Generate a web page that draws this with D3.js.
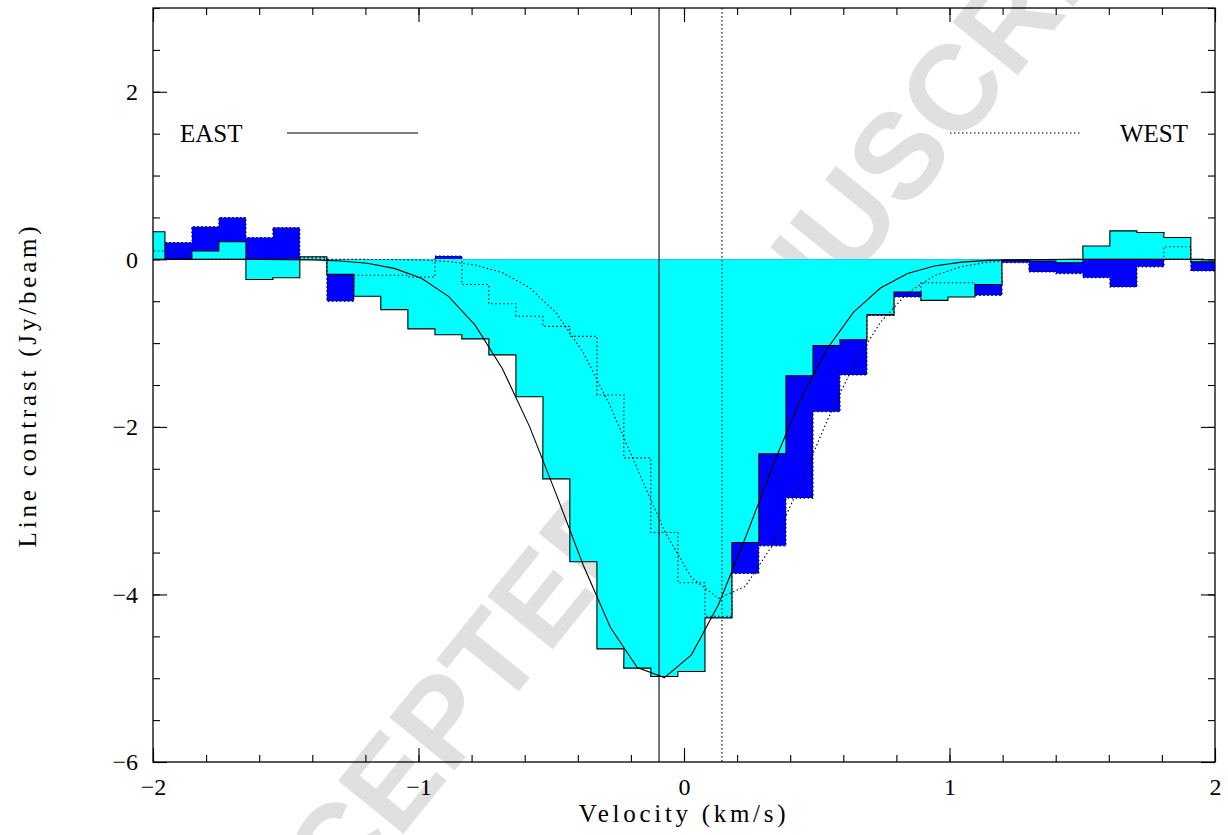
<!DOCTYPE html>
<html>
<head>
<meta charset="utf-8">
<script src="https://d3js.org/d3.v7.min.js"></script>
<style>
body { margin: 0; background: #fff; }
</style>
</head>
<body>
<div id="spectrum_div"></div>
<script>
// channel centres (km/s)
var velocity = [-2.006, -1.904, -1.803, -1.701, -1.599, -1.498, -1.396, -1.294, -1.193, -1.091,
                -0.989, -0.887, -0.786, -0.684, -0.582, -0.481, -0.379, -0.277, -0.176, -0.074,
                 0.028,  0.130,  0.231,  0.333,  0.435,  0.537,  0.638,  0.740,  0.842,  0.943,
                 1.045,  1.147,  1.248,  1.350,  1.452,  1.553,  1.655,  1.757,  1.858,  1.960];

// line contrast per channel (Jy/beam)
var eastContrast = [0.33, 0.00, 0.10, 0.21, -0.24, -0.22, 0.03, -0.18, -0.44, -0.60,
                    -0.83, -0.90, -0.95, -1.14, -1.64, -2.62, -3.61, -4.65, -4.88, -4.98,
                    -4.92, -4.28, -3.38, -2.32, -1.39, -1.03, -0.96, -0.66, -0.39, -0.49,
                    -0.45, -0.30, -0.01, -0.02, -0.04, 0.16, 0.34, 0.32, 0.26, -0.03];
var westContrast = [0.10, 0.20, 0.39, 0.50, 0.26, 0.38, 0.02, -0.50, -0.19, -0.19,
                    -0.21, 0.04, -0.30, -0.53, -0.68, -0.80, -0.92, -1.62, -2.37, -3.26,
                    -3.86, -4.26, -3.75, -3.42, -2.85, -1.82, -1.38, -0.67, -0.45, -0.28,
                    -0.28, -0.43, -0.04, -0.15, -0.17, -0.22, -0.33, -0.09, 0.15, -0.14];

// gaussian fits, read at the channel centres
var eastFit = [0.000, 0.000, 0.000, 0.000, -0.001, -0.003, -0.007, -0.019, -0.047, -0.108,
               -0.227, -0.442, -0.789, -1.305, -1.994, -2.805, -3.655, -4.394, -4.872, -4.992,
               -4.721, -4.120, -3.327, -2.475, -1.698, -1.076, -0.633, -0.342, -0.170, -0.079,
               -0.033, -0.013, -0.005, -0.002, 0.000, 0.000, 0.000, 0.000, 0.000, 0.000];
var westFit = [0.000, 0.000, 0.000, 0.000, 0.000, 0.000, 0.000, 0.000, -0.001, -0.003,
               -0.009, -0.027, -0.068, -0.159, -0.336, -0.641, -1.115, -1.757, -2.500, -3.240,
               -3.800, -4.047, -3.904, -3.413, -2.705, -1.940, -1.270, -0.750, -0.400, -0.195,
               -0.086, -0.034, -0.013, -0.004, -0.001, 0.000, 0.000, 0.000, 0.000, 0.000];

// fitted line centres (km/s)
var eastCentre = -0.094;
var westCentre = 0.143;

var xTicks = [-2, -1, 0, 1, 2];
var yTicks = [-6, -4, -2, 0, 2];
var seriesNames = ["EAST", "WEST"];

var serif = "'Liberation Serif', 'DejaVu Serif', serif";

var margin = {top: 8, right: 13, bottom: 73, left: 153},
    width = 1228 - margin.left - margin.right,
    height = 835 - margin.top - margin.bottom;

var svg = d3.select("#spectrum_div")
  .append("svg")
    .attr("width", 1228)
    .attr("height", 835);

// watermark sits under everything
svg.append("text")
    .attr("transform", "translate(677,429) rotate(-51)")
    .attr("text-anchor", "middle")
    .attr("dominant-baseline", "central")
    .attr("font-family", "'Liberation Sans', Arial, sans-serif")
    .attr("font-weight", "bold")
    .attr("font-size", 122)
    .attr("fill", "#e0e0e0")
    .text("ACCEPTED MANUSCRIPT");

var g = svg.append("g")
    .attr("transform", "translate(" + margin.left + "," + margin.top + ")");

var x = d3.scaleLinear().domain([-2, 2]).range([0, width]);
var y = d3.scaleLinear().domain([-6, 3]).range([height, 0]);

g.append("clipPath").attr("id", "plot_clip")
  .append("rect").attr("width", width).attr("height", height);
var plot = g.append("g").attr("clip-path", "url(#plot_clip)");

// each channel becomes a flat step one channel wide
var half = (velocity[1] - velocity[0]) / 2;
function steps(vals) {
  var pts = [];
  vals.forEach(function(d, i) {
    pts.push([velocity[i] - half, d]);
    pts.push([velocity[i] + half, d]);
  });
  return pts;
}

var area = d3.area()
    .x(function(d) { return x(d[0]); })
    .y0(y(0))
    .y1(function(d) { return y(d[1]); });
var line = d3.line()
    .x(function(d) { return x(d[0]); })
    .y(function(d) { return y(d[1]); });

// blue = west, cyan = east drawn on top of it
plot.append("path").datum(steps(westContrast))
    .attr("fill", "#0000ff").attr("d", area);
plot.append("path").datum(steps(eastContrast))
    .attr("fill", "#00ffff").attr("d", area);

plot.append("path").datum(steps(eastContrast))
    .attr("fill", "none").attr("stroke", "#000").attr("stroke-width", 1.1)
    .attr("d", line);
plot.append("path").datum(steps(westContrast))
    .attr("fill", "none").attr("stroke", "#000").attr("stroke-width", 1.1)
    .attr("stroke-dasharray", "1.5,2.5")
    .attr("d", line);

// fits
plot.append("path").datum(velocity.map(function(v, i) { return [v, eastFit[i]]; }))
    .attr("fill", "none").attr("stroke", "#000").attr("stroke-width", 1.1)
    .attr("d", line);
plot.append("path").datum(velocity.map(function(v, i) { return [v, westFit[i]]; }))
    .attr("fill", "none").attr("stroke", "#000").attr("stroke-width", 1.1)
    .attr("stroke-dasharray", "1.5,2.5")
    .attr("d", line);

// line centres
plot.append("line")
    .attr("x1", x(eastCentre)).attr("x2", x(eastCentre))
    .attr("y1", 0).attr("y2", height)
    .attr("stroke", "#000").attr("stroke-width", 1.1);
plot.append("line")
    .attr("x1", x(westCentre)).attr("x2", x(westCentre))
    .attr("y1", 0).attr("y2", height)
    .attr("stroke", "#000").attr("stroke-width", 1.1)
    .attr("stroke-dasharray", "1.5,2.5");

// axes, ticks pointing inwards on all four sides
function addAxis(axis, tx, ty) {
  var a = g.append("g")
      .attr("transform", "translate(" + tx + "," + ty + ")")
      .call(axis);
  a.select(".domain").remove();
  a.selectAll(".tick line").attr("stroke", "#000").attr("stroke-width", 1.1);
  a.selectAll("text")
      .attr("font-family", serif)
      .attr("font-size", 24)
      .attr("fill", "#000");
  return a;
}
var intFmt = d3.format("d");
addAxis(d3.axisBottom(x).tickValues(xTicks).tickSize(-14).tickPadding(16).tickFormat(intFmt), 0, height);
addAxis(d3.axisBottom(x).ticks(20).tickSize(-7).tickFormat(""), 0, height);
addAxis(d3.axisTop(x).tickValues(xTicks).tickSize(-14).tickFormat(""), 0, 0);
addAxis(d3.axisTop(x).ticks(20).tickSize(-7).tickFormat(""), 0, 0);
addAxis(d3.axisLeft(y).tickValues(yTicks).tickSize(-14).tickPadding(15).tickFormat(intFmt), 0, 0);
addAxis(d3.axisLeft(y).ticks(18).tickSize(-7).tickFormat(""), 0, 0);
addAxis(d3.axisRight(y).tickValues(yTicks).tickSize(-14).tickFormat(""), width, 0);
addAxis(d3.axisRight(y).ticks(18).tickSize(-7).tickFormat(""), width, 0);

g.append("rect")
    .attr("width", width).attr("height", height)
    .attr("fill", "none").attr("stroke", "#000").attr("stroke-width", 1.3);

// axis titles
g.append("text")
    .attr("x", width / 2).attr("y", height + 60)
    .attr("text-anchor", "middle")
    .attr("font-family", serif).attr("font-size", 25)
    .attr("letter-spacing", 3.7)
    .text("Velocity (km/s)");
g.append("text")
    .attr("transform", "translate(" + (36 - margin.left) + "," + (height / 2) + ") rotate(-90)")
    .attr("text-anchor", "middle")
    .attr("font-family", serif).attr("font-size", 25)
    .attr("letter-spacing", 3.8)
    .text("Line contrast (Jy/beam)");

// legend
var legY = 125;
g.append("text")
    .attr("x", 27).attr("y", legY + 9)
    .attr("font-family", serif).attr("font-size", 25)
    .text(seriesNames[0]);
g.append("line")
    .attr("x1", 134).attr("x2", 265).attr("y1", legY).attr("y2", legY)
    .attr("stroke", "#000").attr("stroke-width", 1.1);
g.append("text")
    .attr("x", width - 27).attr("y", legY + 9)
    .attr("text-anchor", "end")
    .attr("font-family", serif).attr("font-size", 25)
    .text(seriesNames[1]);
g.append("line")
    .attr("x1", 797).attr("x2", 927).attr("y1", legY).attr("y2", legY)
    .attr("stroke", "#000").attr("stroke-width", 1.1)
    .attr("stroke-dasharray", "1.5,2.5");
</script>
</body>
</html>
